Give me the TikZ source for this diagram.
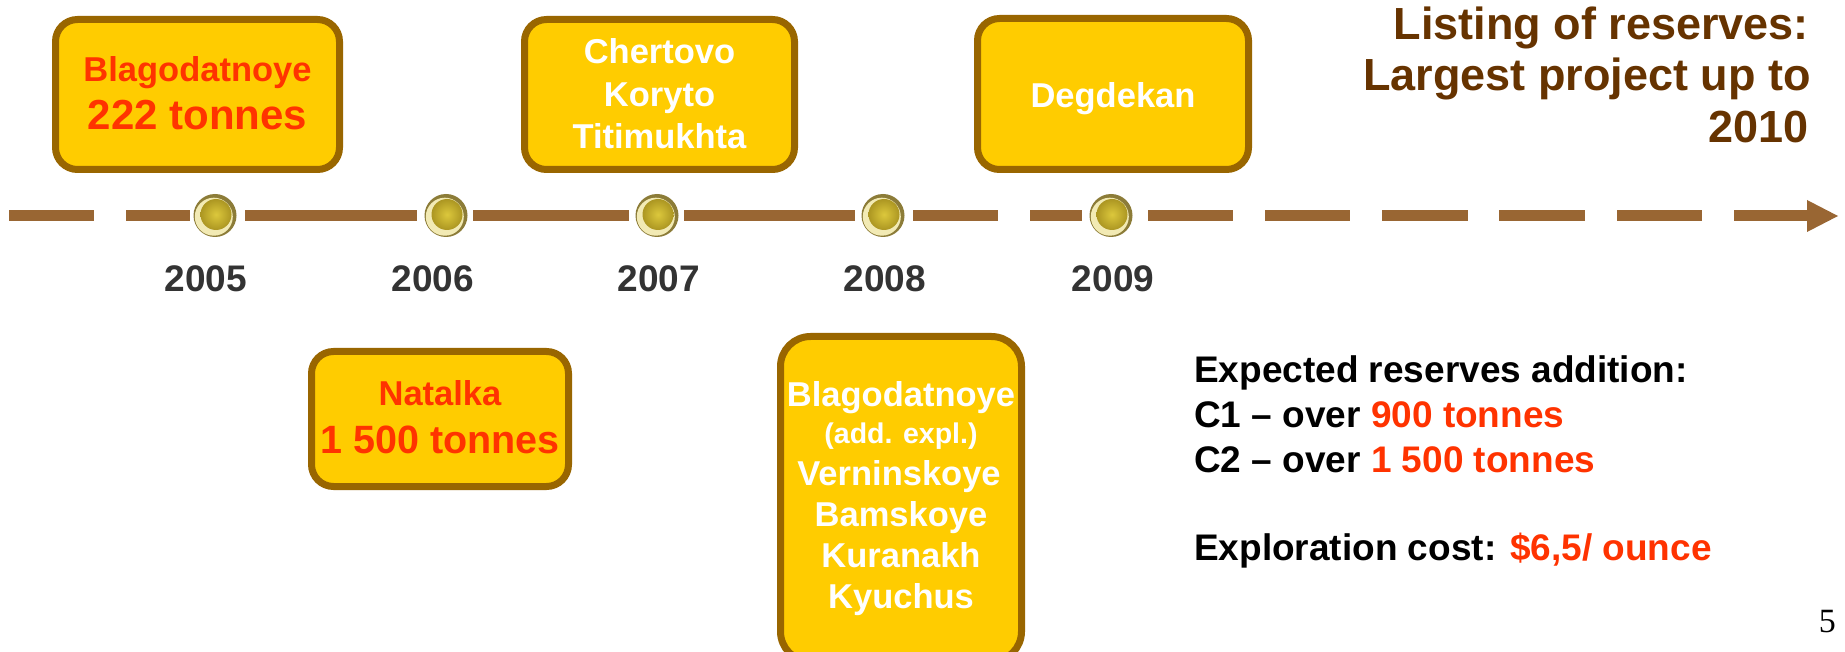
\documentclass[tikz,border=0pt]{standalone}
\usepackage{fontspec}
\setmainfont{Liberation Sans}
\newfontfamily\pagenumfont{Liberation Serif}
\definecolor{boxfill}{HTML}{FFCC00}
\definecolor{boxline}{HTML}{996600}
\definecolor{tline}{HTML}{996633}
\definecolor{redtxt}{HTML}{FF3300}
\definecolor{yeartxt}{HTML}{333333}
\definecolor{titletxt}{HTML}{663300}
\definecolor{dotrim}{HTML}{8C7C38}
\definecolor{dotlight}{HTML}{F2EAB4}
\definecolor{dotin}{HTML}{DCC83C}
\definecolor{dotout}{HTML}{AC9622}
\newcommand{\fsz}[1]{\fontsize{#1}{#1}\selectfont}
\tikzset{
  evbox/.style={draw=boxline, line width=7pt, fill=boxfill, rounded corners=22pt, inner sep=0pt},
  lbl/.style={inner sep=0pt, font=\bfseries, anchor=base},
  tl/.style={draw=tline, line width=11pt},
  golddot/.style={circle, minimum size=43pt, inner sep=0pt, fill=dotrim,
    path picture={
      \fill[dotlight] ([xshift=-1.2pt,yshift=-1.2pt]path picture bounding box.center) circle (19pt);
      \shade[inner color=dotin, outer color=dotout] ([xshift=1pt,yshift=1pt]path picture bounding box.center) circle (15.5pt);
    }},
}
\begin{document}
\begin{tikzpicture}[x=1pt,y=-1pt]
\useasboundingbox[fill=white] (0,0) rectangle (1845,652);

% timeline
\foreach \a/\b in {9/94,126/190,245/417,473/629,684/855,913/998,1030/1082,1148/1233,1265/1350,1382/1468,1499/1585,1617/1702,1734/1808}
  \draw[tl] (\a,215.5) -- (\b,215.5);
\fill[tline] (1807,200) -- (1838,216) -- (1807,232) -- cycle;

% dots
\node[golddot] (d2005) at (215,215.5) {};
\node[golddot] (d2006) at (446,215.5) {};
\node[golddot] (d2007) at (657,215.5) {};
\node[golddot] (d2008) at (883,215.5) {};
\node[golddot] (d2009) at (1111,215.5) {};

% years
\node[lbl, text=yeartxt, font=\bfseries\fsz{37}] (y2005) at (206,292) {2005};
\node[lbl, text=yeartxt, font=\bfseries\fsz{37}] (y2006) at (433,292) {2006};
\node[lbl, text=yeartxt, font=\bfseries\fsz{37}] (y2007) at (659,292) {2007};
\node[lbl, text=yeartxt, font=\bfseries\fsz{37}] (y2008) at (885,292) {2008};
\node[lbl, text=yeartxt, font=\bfseries\fsz{37}] (y2009) at (1113,292) {2009};

% boxes
\node[evbox, minimum width=284pt, minimum height=150pt] (box2005) at (197.5,94.5) {};
\node[evbox, minimum width=257pt, minimum height=135pt] (box2006) at (440,419) {};
\node[evbox, minimum width=270pt, minimum height=150pt] (box2007) at (659.5,94.5) {};
\node[evbox, minimum width=241pt, minimum height=325pt, rounded corners=30pt] (box2008) at (901,499) {};
\node[evbox, minimum width=271pt, minimum height=151pt] (box2009) at (1113,94) {};

% box texts
\node[lbl, text=redtxt, font=\bfseries\fsz{34.5}] (t05a) at (197.5,82) {Blagodatnoye};
\node[lbl, text=redtxt, font=\bfseries\fsz{42}] (t05b) at (197.5,130) {222 tonnes};

\node[lbl, text=redtxt, font=\bfseries\fsz{34.5}] (t06a) at (440,405) {Natalka};
\node[lbl, text=redtxt, font=\bfseries\fsz{39.5}] (t06b) at (440,453) {1 500 tonnes};

\node[lbl, text=white, font=\bfseries\fsz{34.5}] (t07a) at (659.5,64) {Chertovo};
\node[lbl, text=white, font=\bfseries\fsz{34.5}] (t07b) at (659.5,107) {Koryto};
\node[lbl, text=white, font=\bfseries\fsz{34.5}] (t07c) at (659.5,149) {Titimukhta};

\node[lbl, text=white, font=\bfseries\fsz{34.5}] (t08a) at (901,406) {Blagodatnoye};
\node[lbl, text=white, font=\bfseries\fsz{28.5}] (t08b) at (901,443) {(add. expl.)};
\node[lbl, text=white, font=\bfseries\fsz{34.5}] (t08c) at (899,485) {Verninskoye};
\node[lbl, text=white, font=\bfseries\fsz{34.5}] (t08d) at (901,526) {Bamskoye};
\node[lbl, text=white, font=\bfseries\fsz{34.5}] (t08e) at (901,567) {Kuranakh};
\node[lbl, text=white, font=\bfseries\fsz{34.5}] (t08f) at (901,608) {Kyuchus};

\node[lbl, text=white, font=\bfseries\fsz{34.5}] (t09a) at (1113,108) {Degdekan};

% title
\node[lbl, anchor=base east, text=titletxt, font=\bfseries\fsz{45}] (ti1) at (1809,40) {Listing of reserves:};
\node[lbl, anchor=base east, text=titletxt, font=\bfseries\fsz{45}] (ti2) at (1811,91) {Largest project up to};
\node[lbl, anchor=base east, text=titletxt, font=\bfseries\fsz{45}] (ti3) at (1809,143) {2010};

% notes
\node[lbl, anchor=base west, font=\bfseries\fsz{37}] (n1) at (1194,382) {Expected reserves addition:};
\node[lbl, anchor=base west, font=\bfseries\fsz{37}] (n2) at (1194,427) {C1 – over \textcolor{redtxt}{900 tonnes}};
\node[lbl, anchor=base west, font=\bfseries\fsz{37}] (n3) at (1194,472) {C2 – over \textcolor{redtxt}{1 500 tonnes}};
\node[lbl, anchor=base west, font=\bfseries\fsz{37}] (n4) at (1194,560) {Exploration cost: \textcolor{redtxt}{\$6,5/ ounce}};

\node[inner sep=0pt, anchor=base east, font=\pagenumfont\fsz{34}] (pg) at (1836,632) {5};
\end{tikzpicture}
\end{document}
